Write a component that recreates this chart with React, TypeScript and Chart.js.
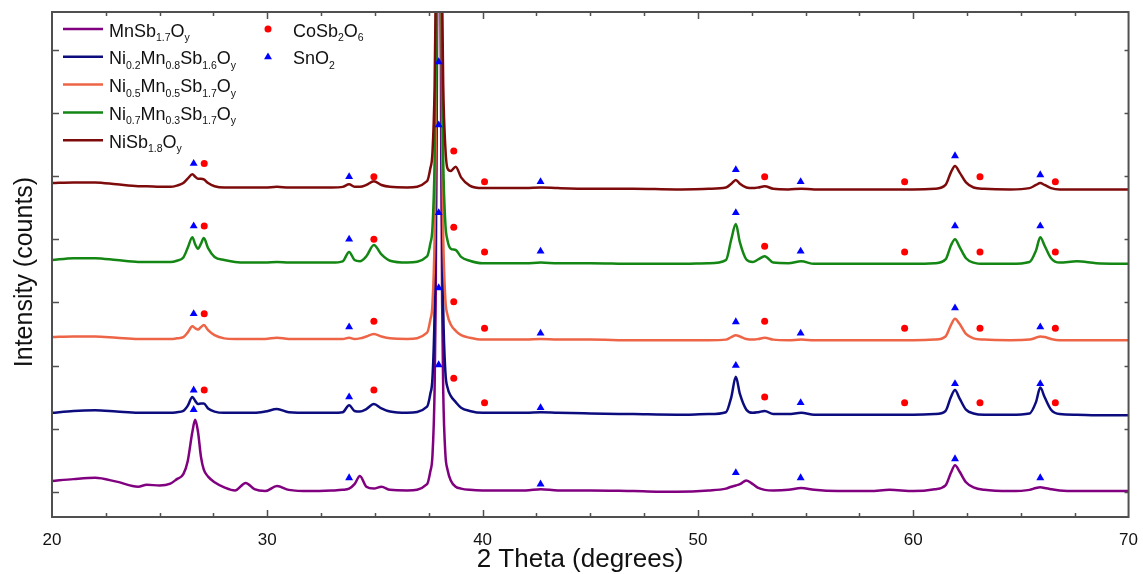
import { useEffect, useRef } from 'react';
import { Chart, registerables } from 'chart.js';

Chart.register(...registerables);

// ---------- data ----------
const twoTheta = [20.0, 21.0, 22.0, 23.0, 24.0, 24.4, 25.0, 25.5, 25.8, 26.1, 26.3, 26.52, 26.65, 26.78, 26.92, 27.05, 27.25, 27.55, 28.0, 28.5, 29.0, 29.4, 29.9, 30.45, 31.0, 32.0, 33.0, 33.5, 33.8, 34.05, 34.3, 34.6, 34.95, 35.3, 35.7, 36.5, 37.42, 37.57, 37.67, 37.77, 37.82, 37.87, 37.97, 38.07, 38.12, 38.17, 38.27, 38.37, 38.52, 38.75, 39.0, 39.4, 40.0, 41.0, 42.0, 42.7, 43.5, 45.0, 47.0, 49.0, 50.5, 51.3, 51.55, 51.76, 51.95, 52.25, 52.55, 52.8, 53.1, 53.5, 54.2, 54.8, 55.4, 56.5, 58.0, 58.9, 60.0, 61.0, 61.5, 61.75, 61.94, 62.15, 62.45, 62.8, 63.3, 64.5, 65.4, 65.7, 65.9, 66.1, 66.4, 66.8, 67.6, 68.5, 70.0];

const mnSb17 = [0.17, 0.20, 0.22, 0.16, 0.08, 0.11, 0.10, 0.13, 0.20, 0.28,
  0.48, 0.95, 1.14, 0.95, 0.55, 0.35, 0.24, 0.15, 0.07, 0.02,
  0.14, 0.04, 0.01, 0.09, 0.03, 0.01, 0.02, 0.03, 0.05, 0.12,
  0.25, 0.08, 0.05, 0.08, 0.03, 0.02, 0.12, 0.32, 0.57, 1.62,
  3.0, 6.0, 14.0, 6.0, 3.0, 1.6, 0.6, 0.35, 0.18, 0.08,
  0.05, 0.03, 0.02, 0.02, 0.02, 0.04, 0.02, 0.02, 0.01, 0.0,
  0.02, 0.05, 0.08, 0.10, 0.12, 0.18, 0.12, 0.06, 0.03, 0.02,
  0.03, 0.06, 0.03, 0.01, 0.01, 0.03, 0.01, 0.04, 0.10, 0.30,
  0.42, 0.32, 0.15, 0.07, 0.03, 0.01, 0.03, 0.06, 0.07, 0.06,
  0.04, 0.02, 0.01, 0.01, 0.01];

const ni02Mn08 = [1.25, 1.28, 1.29, 1.27, 1.25, 1.25, 1.25, 1.25, 1.26, 1.28,
  1.36, 1.50, 1.44, 1.39, 1.40, 1.40, 1.32, 1.27, 1.25, 1.25,
  1.25, 1.25, 1.27, 1.31, 1.26, 1.25, 1.25, 1.26, 1.37, 1.28,
  1.27, 1.31, 1.39, 1.32, 1.27, 1.25, 1.35, 1.55, 1.80, 2.85,
  4.25, 7.25, 15.25, 7.25, 4.3, 2.9, 1.9, 1.65, 1.52, 1.42,
  1.33, 1.28, 1.25, 1.25, 1.25, 1.26, 1.25, 1.24, 1.23, 1.22,
  1.23, 1.26, 1.50, 1.82, 1.55, 1.30, 1.25, 1.26, 1.28, 1.23,
  1.23, 1.25, 1.22, 1.22, 1.22, 1.22, 1.22, 1.23, 1.28, 1.50,
  1.61, 1.48, 1.30, 1.24, 1.22, 1.22, 1.24, 1.42, 1.65, 1.50,
  1.30, 1.23, 1.22, 1.21, 1.21];

const ni05Mn05 = [2.45, 2.46, 2.46, 2.44, 2.42, 2.42, 2.42, 2.42, 2.43, 2.45,
  2.52, 2.62, 2.59, 2.57, 2.61, 2.64, 2.56, 2.48, 2.43, 2.42,
  2.42, 2.42, 2.42, 2.44, 2.42, 2.42, 2.42, 2.42, 2.44, 2.42,
  2.43, 2.46, 2.50, 2.46, 2.43, 2.42, 2.52, 2.72, 2.97, 4.02,
  5.42, 8.42, 16.42, 8.42, 5.45, 4.05, 3.05, 2.80, 2.65, 2.55,
  2.48, 2.44, 2.41, 2.41, 2.41, 2.42, 2.41, 2.41, 2.40, 2.40,
  2.40, 2.41, 2.45, 2.48, 2.46, 2.42, 2.41, 2.42, 2.44, 2.41,
  2.40, 2.41, 2.40, 2.40, 2.40, 2.40, 2.40, 2.41, 2.46, 2.64,
  2.74, 2.66, 2.50, 2.43, 2.41, 2.40, 2.41, 2.44, 2.46, 2.45,
  2.42, 2.40, 2.40, 2.40, 2.40];

const ni07Mn03 = [3.67, 3.70, 3.70, 3.67, 3.64, 3.64, 3.64, 3.64, 3.66, 3.71,
  3.86, 4.03, 3.92, 3.85, 3.93, 4.02, 3.86, 3.72, 3.67, 3.64,
  3.63, 3.63, 3.63, 3.64, 3.63, 3.63, 3.63, 3.65, 3.80, 3.67,
  3.65, 3.73, 3.91, 3.76, 3.66, 3.63, 3.73, 3.93, 4.18, 5.23,
  6.63, 9.63, 17.63, 9.63, 6.65, 5.25, 4.25, 3.98, 3.85, 3.83,
  3.72, 3.66, 3.62, 3.62, 3.62, 3.63, 3.62, 3.62, 3.61, 3.61,
  3.62, 3.67, 4.00, 4.24, 3.95, 3.68, 3.64, 3.68, 3.73, 3.63,
  3.62, 3.65, 3.61, 3.61, 3.61, 3.61, 3.61, 3.62, 3.68, 3.90,
  4.00, 3.88, 3.70, 3.63, 3.61, 3.61, 3.64, 3.82, 4.03, 3.90,
  3.70, 3.63, 3.65, 3.62, 3.61];

const niSb18 = [4.89, 4.90, 4.90, 4.87, 4.84, 4.84, 4.83, 4.83, 4.85, 4.89,
  4.96, 5.03, 4.99, 4.96, 4.96, 4.95, 4.89, 4.84, 4.82, 4.82,
  4.82, 4.82, 4.82, 4.83, 4.82, 4.82, 4.82, 4.83, 4.87, 4.83,
  4.83, 4.86, 4.92, 4.86, 4.83, 4.82, 4.92, 5.12, 5.37, 6.42,
  7.82, 10.82, 18.82, 10.82, 7.85, 6.45, 5.45, 5.12, 5.08, 5.15,
  4.98, 4.85, 4.81, 4.81, 4.81, 4.82, 4.81, 4.80, 4.80, 4.79,
  4.80, 4.82, 4.88, 4.94, 4.88, 4.82, 4.81, 4.82, 4.84, 4.80,
  4.79, 4.80, 4.79, 4.79, 4.79, 4.79, 4.79, 4.80, 4.86, 5.06,
  5.16, 5.06, 4.90, 4.82, 4.80, 4.79, 4.81, 4.86, 4.89, 4.86,
  4.81, 4.79, 4.79, 4.79, 4.79];

const seriesLabels = ['MnSb_{1.7}O_{y}', 'Ni_{0.2}Mn_{0.8}Sb_{1.6}O_{y}', 'Ni_{0.5}Mn_{0.5}Sb_{1.7}O_{y}', 'Ni_{0.7}Mn_{0.3}Sb_{1.7}O_{y}', 'NiSb_{1.8}O_{y}'];
const seriesColors = ['#800080', '#0c0c7e', '#ee6446', '#138613', '#7e0b0b'];

const phaseLabels = ['CoSb_{2}O_{6}', 'SnO_{2}'];
const phaseColors = ['#ff0000', '#0000ff'];

// CoSb2O6 reflections (red circles)
const cosbX = [27.07, 34.95, 38.66, 40.09, 53.1, 59.6, 63.1, 66.6,
  27.07, 34.95, 38.66, 40.09, 53.1, 59.6, 63.1, 66.6,
  27.07, 34.95, 38.66, 40.09, 53.1, 59.6, 63.1, 66.6,
  27.07, 34.95, 38.66, 40.09, 53.1, 59.6, 63.1, 66.6];
const cosbY = [5.20, 4.99, 5.40, 4.91, 4.99, 4.91, 4.99, 4.91,
  4.21, 4.00, 4.19, 3.80, 3.89, 3.80, 3.80, 3.80,
  2.82, 2.70, 3.01, 2.59, 2.70, 2.59, 2.59, 2.59,
  1.61, 1.61, 1.80, 1.41, 1.50, 1.41, 1.41, 1.41];

// SnO2 reflections (blue triangles)
const snoX = [26.58, 33.8, 37.96, 42.69, 51.76, 54.77, 61.94, 65.9,
  26.58, 33.8, 37.96, 42.69, 51.76, 54.77, 61.94, 65.9,
  26.58, 33.8, 37.96, 42.69, 51.76, 54.77, 61.94, 65.9,
  26.58, 33.8, 37.96, 42.69, 51.76, 54.77, 61.94, 65.9,
  26.58, 33.8, 37.96, 42.69, 51.76, 54.77, 61.94, 65.9];
const snoY = [5.20, 4.99, 6.81, 4.91, 5.10, 4.91, 5.32, 5.02,
  4.21, 4.00, 5.81, 3.81, 4.42, 3.81, 4.21, 4.21,
  2.82, 2.61, 4.42, 2.51, 2.69, 2.51, 2.91, 2.61,
  1.61, 1.50, 3.23, 1.33, 2.00, 1.41, 1.71, 1.71,
  1.30, 0.22, 2.01, 0.12, 0.30, 0.22, 0.52, 0.22];

const xMajorTicks = [20, 30, 40, 50, 60, 70];
const xMinorTicks = [22.5, 25, 27.5, 32.5, 35, 37.5, 42.5, 45, 47.5, 52.5, 55, 57.5, 62.5, 65, 67.5];
const yTicks = [0, 1, 2, 3, 4, 5, 6, 7];

const xTitle = '2 Theta (degrees)';
const yTitle = 'Intensity (counts)';

const FONT = '"Liberation Sans", Arial, Helvetica, sans-serif';

function parseRich(label: string): Array<[string, boolean]> {
  const out: Array<[string, boolean]> = [];
  const re = /_\{([^}]*)\}/g;
  let last = 0;
  let m: RegExpExecArray | null;
  while ((m = re.exec(label)) !== null) {
    if (m.index > last) out.push([label.slice(last, m.index), false]);
    out.push([m[1], true]);
    last = m.index + m[0].length;
  }
  if (last < label.length) out.push([label.slice(last), false]);
  return out;
}

function drawRich(ctx: CanvasRenderingContext2D, label: string, x: number, y: number) {
  let cx = x;
  for (const [t, sub] of parseRich(label)) {
    ctx.font = sub ? `10.5px ${FONT}` : `18px ${FONT}`;
    ctx.fillText(t, cx, sub ? y + 4.5 : y);
    cx += ctx.measureText(t).width;
  }
}

const decorPlugin = {
  id: 'decor',
  afterDatasetsDraw(chart: any) {
    const { ctx, chartArea } = chart;
    const { left, right, top, bottom } = chartArea;
    const xs = chart.scales.x;
    const ys = chart.scales.y;
    ctx.save();
    ctx.strokeStyle = '#505050';
    ctx.lineWidth = 1.5;
    ctx.beginPath();
    const tickX = (v: number, len: number) => {
      const px = Math.round(xs.getPixelForValue(v)) + 0.5;
      ctx.moveTo(px, bottom);
      ctx.lineTo(px, bottom - len);
      ctx.moveTo(px, top);
      ctx.lineTo(px, top + len);
    };
    xMajorTicks.forEach((v) => { if (v > 20 && v < 70) tickX(v, 7); });
    xMinorTicks.forEach((v) => tickX(v, 4));
    yTicks.forEach((v) => {
      const py = Math.round(ys.getPixelForValue(v)) + 0.5;
      ctx.moveTo(left, py);
      ctx.lineTo(left + 7, py);
      ctx.moveTo(right, py);
      ctx.lineTo(right - 4, py);
    });
    ctx.stroke();
    ctx.lineWidth = 2;
    ctx.strokeRect(left, top, right - left, bottom - top);
    ctx.restore();
  },
  afterDraw(chart: any) {
    const { ctx } = chart;
    ctx.save();
    ctx.fillStyle = '#111';
    ctx.textBaseline = 'alphabetic';
    // axis titles
    ctx.font = `26px ${FONT}`;
    ctx.textAlign = 'center';
    ctx.fillText(xTitle, 580, 567);
    ctx.save();
    ctx.translate(32, 272);
    ctx.rotate(-Math.PI / 2);
    ctx.font = `25px ${FONT}`;
    ctx.fillText(yTitle, 0, 0);
    ctx.restore();
    // legend
    ctx.textAlign = 'left';
    seriesLabels.forEach((lab, i) => {
      const y = 29 + i * 27.8;
      ctx.strokeStyle = seriesColors[i];
      ctx.lineWidth = 2.5;
      ctx.beginPath();
      ctx.moveTo(63, y);
      ctx.lineTo(103, y);
      ctx.stroke();
      ctx.fillStyle = '#111';
      drawRich(ctx, lab, 109, y + 7.5);
    });
    // phase markers
    const mx = 268;
    ctx.fillStyle = phaseColors[0];
    ctx.beginPath();
    ctx.arc(mx, 29, 3.5, 0, Math.PI * 2);
    ctx.fill();
    ctx.fillStyle = phaseColors[1];
    const r = 4.6;
    const cy = 57;
    ctx.beginPath();
    ctx.moveTo(mx, cy - r);
    ctx.lineTo(mx + r * Math.cos(Math.PI / 6), cy + r / 2);
    ctx.lineTo(mx - r * Math.cos(Math.PI / 6), cy + r / 2);
    ctx.closePath();
    ctx.fill();
    ctx.fillStyle = '#111';
    phaseLabels.forEach((lab, i) => drawRich(ctx, lab, 293, 29 + i * 27.8 + 7.5));
    ctx.restore();
  },
};

export default function App() {
  const ref = useRef<HTMLCanvasElement | null>(null);
  useEffect(() => {
    if (!ref.current) return;
    const traces = [mnSb17, ni02Mn08, ni05Mn05, ni07Mn03, niSb18];
    const plain = (s: string) => s.replace(/_\{([^}]*)\}/g, '$1');
    const lineSets = traces.map((vals, i) => ({
      label: plain(seriesLabels[i]),
      data: twoTheta.map((x, k) => ({ x, y: vals[k] })),
      showLine: true,
      borderColor: seriesColors[i],
      backgroundColor: seriesColors[i],
      borderWidth: 2.5,
      pointRadius: 0,
      cubicInterpolationMode: 'monotone' as const,
      order: 5 - i,
    }));
    const chart = new Chart(ref.current, {
      type: 'scatter',
      data: {
        datasets: [
          {
            label: plain(phaseLabels[0]),
            data: cosbX.map((x, k) => ({ x, y: cosbY[k] })),
            pointStyle: 'circle',
            pointRadius: 3.5,
            backgroundColor: phaseColors[0],
            borderWidth: 0,
            order: 0,
          },
          {
            label: plain(phaseLabels[1]),
            data: snoX.map((x, k) => ({ x, y: snoY[k] })),
            pointStyle: 'triangle',
            pointRadius: 4.6,
            backgroundColor: phaseColors[1],
            borderWidth: 0,
            order: 0,
          },
          ...lineSets,
        ] as any,
      },
      options: {
        animation: false,
        responsive: false,
        devicePixelRatio: 1,
        layout: { padding: { top: 12, right: 11, left: 0, bottom: 0 } },
        plugins: { legend: { display: false }, tooltip: { enabled: false } },
        events: [],
        scales: {
          x: {
            type: 'linear',
            min: 20,
            max: 70,
            afterFit: (s: any) => { s.height = 57; },
            grid: { display: false },
            border: { display: false },
            ticks: {
              stepSize: 10,
              padding: 5,
              maxRotation: 0,
              autoSkip: false,
              color: '#111',
              font: { size: 17, family: FONT },
            },
          },
          y: {
            type: 'linear',
            min: -0.4,
            max: 7.6,
            afterFit: (s: any) => { s.width = 52; },
            grid: { display: false },
            border: { display: false },
            ticks: { display: false },
          },
        },
      },
      plugins: [decorPlugin],
    });
    return () => chart.destroy();
  }, []);
  return (
    <div style={{ position: 'absolute', left: 0, top: 0, width: 1143, height: 574, background: '#fff' }}>
      <canvas ref={ref} width={1143} height={574} style={{ display: 'block' }} />
    </div>
  );
}
